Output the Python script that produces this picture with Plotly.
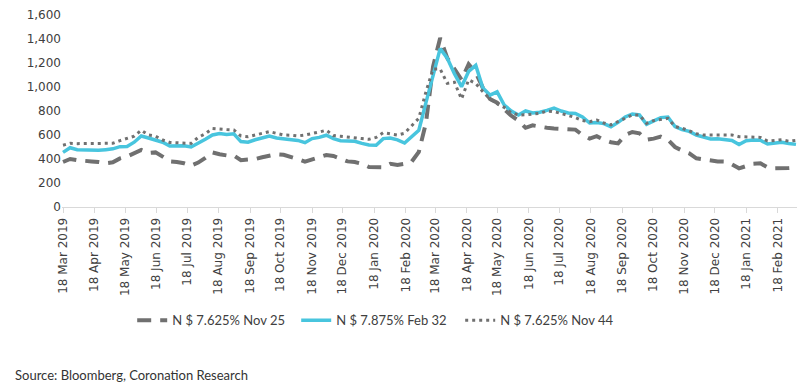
import pandas as pd
import plotly.graph_objects as go

# Weekly observations, starting 18 Mar 2019
start_date = "2019-03-18"
n_weeks = 104

nov25 = [375, 400, 390, 382, 380, 375, 365, 372, 405, 420,
         450, 475, 450, 455, 420, 380, 375, 365, 345, 370,
         410, 455, 440, 430, 430, 390, 395, 400, 415, 425,
         440, 435, 420, 400, 378, 395, 420, 433, 425, 400,
         380, 375, 360, 333, 328, 330, 360, 350, 360, 378,
         460, 700, 1170, 1408, 1240, 1150, 1060, 1190, 1120, 992,
         900, 870, 810, 760, 720, 660, 680, 668, 660, 655,
         650, 648, 645, 600, 570, 590, 560, 540, 530, 600,
         625, 614, 560, 570, 586, 560, 500, 470, 447, 406,
         395, 383, 380, 378, 355, 322, 340, 360, 364, 330,
         322, 320, 325, 330]

feb32 = [455, 494, 478, 475, 470, 472, 478, 485, 503, 505,
         540, 592, 575, 560, 540, 508, 512, 510, 500, 530,
         565, 600, 612, 605, 610, 545, 540, 560, 578, 592,
         575, 567, 565, 555, 536, 570, 580, 598, 570, 552,
         550, 548, 530, 517, 515, 570, 575, 560, 533, 586,
         640, 870, 1100, 1320, 1240, 1110, 1003, 1130, 1180, 992,
         933, 960, 850, 800, 767, 800, 783, 790, 805, 825,
         800, 783, 780, 750, 700, 705, 695, 669, 705, 750,
         775, 767, 690, 715, 745, 750, 670, 645, 630, 600,
         580, 567, 568, 565, 555, 520, 552, 558, 556, 525,
         530, 540, 530, 522]

nov44 = [515, 531, 528, 528, 527, 530, 528, 531, 553, 570,
         590, 640, 600, 590, 558, 538, 535, 533, 530, 580,
         610, 655, 648, 645, 642, 592, 586, 600, 619, 628,
         614, 600, 598, 592, 600, 610, 625, 640, 595, 590,
         585, 581, 570, 564, 580, 619, 610, 600, 615, 675,
         740, 960, 1150, 1150, 1030, 1040, 900, 1060, 1030, 961,
         900, 860, 830, 785, 767, 768, 772, 781, 800, 794,
         780, 765, 745, 720, 711, 725, 700, 685, 712, 740,
         767, 766, 697, 720, 730, 739, 670, 656, 635, 610,
         600, 600, 600, 600, 600, 586, 586, 586, 580, 550,
         555, 560, 548, 555]

series_names = ["N $ 7.625% Nov 25", "N $ 7.875% Feb 32", "N $ 7.625% Nov 44"]
y_ticks = [0, 200, 400, 600, 800, 1000, 1200, 1400, 1600]

dates = pd.date_range(start_date, periods=n_weeks, freq="7D")
tick_dates = pd.date_range("2019-03-01", "2021-02-01", freq="MS") + pd.Timedelta(days=17)
tick_text = [d.strftime("%d %b %Y") for d in tick_dates]

grey = "#707070"
blue = "#48C5DE"

fig = go.Figure()
fig.add_trace(go.Scatter(x=dates, y=nov25, name=series_names[0], mode="lines",
                         line=dict(color=grey, width=4, dash="14px,9px")))
fig.add_trace(go.Scatter(x=dates, y=feb32, name=series_names[1], mode="lines",
                         line=dict(color=blue, width=3.5)))
fig.add_trace(go.Scatter(x=dates, y=nov44, name=series_names[2], mode="lines",
                         line=dict(color=grey, width=3, dash="3px,4px")))

fig.update_layout(
    width=810, height=388,
    margin=dict(l=62, r=13, t=15, b=181),
    plot_bgcolor="white", paper_bgcolor="white",
    font=dict(family="DejaVu Sans", size=12, color="#404040"),
    showlegend=True,
    legend=dict(orientation="h", x=0.0955, xanchor="left", y=-0.59, yanchor="middle",
                entrywidth=119, entrywidthmode="pixels",
                font=dict(family="Lato", size=13, color="#404040"),
                bgcolor="rgba(0,0,0,0)", traceorder="normal"),
    annotations=[dict(text="Source: Bloomberg, Coronation Research", xref="paper", yref="paper",
                      x=-0.066, y=-0.875, xanchor="left", yanchor="middle", showarrow=False,
                      font=dict(family="Lato", size=13, color="#333333"))],
)
fig.update_xaxes(range=["2019-03-17", "2021-03-09"], tickvals=tick_dates, ticktext=tick_text,
                 tickangle=-90, showgrid=False, showline=True, linecolor="#d9d9d9", linewidth=1,
                 ticks="outside", tickcolor="#d9d9d9", ticklen=5, zeroline=False, automargin=False,
                 tickfont=dict(family="DejaVu Sans", size=12, color="#404040"))
fig.update_yaxes(range=[0, 1600], tickvals=y_ticks, tickformat=",d", showgrid=False,
                 showline=False, zeroline=False, ticks="", ticklen=0, automargin=False,
                 tickfont=dict(family="DejaVu Sans", size=12, color="#404040"))

fig.write_html("out.html", config={"displayModeBar": False},
               post_script="document.body.style.margin='0';")
